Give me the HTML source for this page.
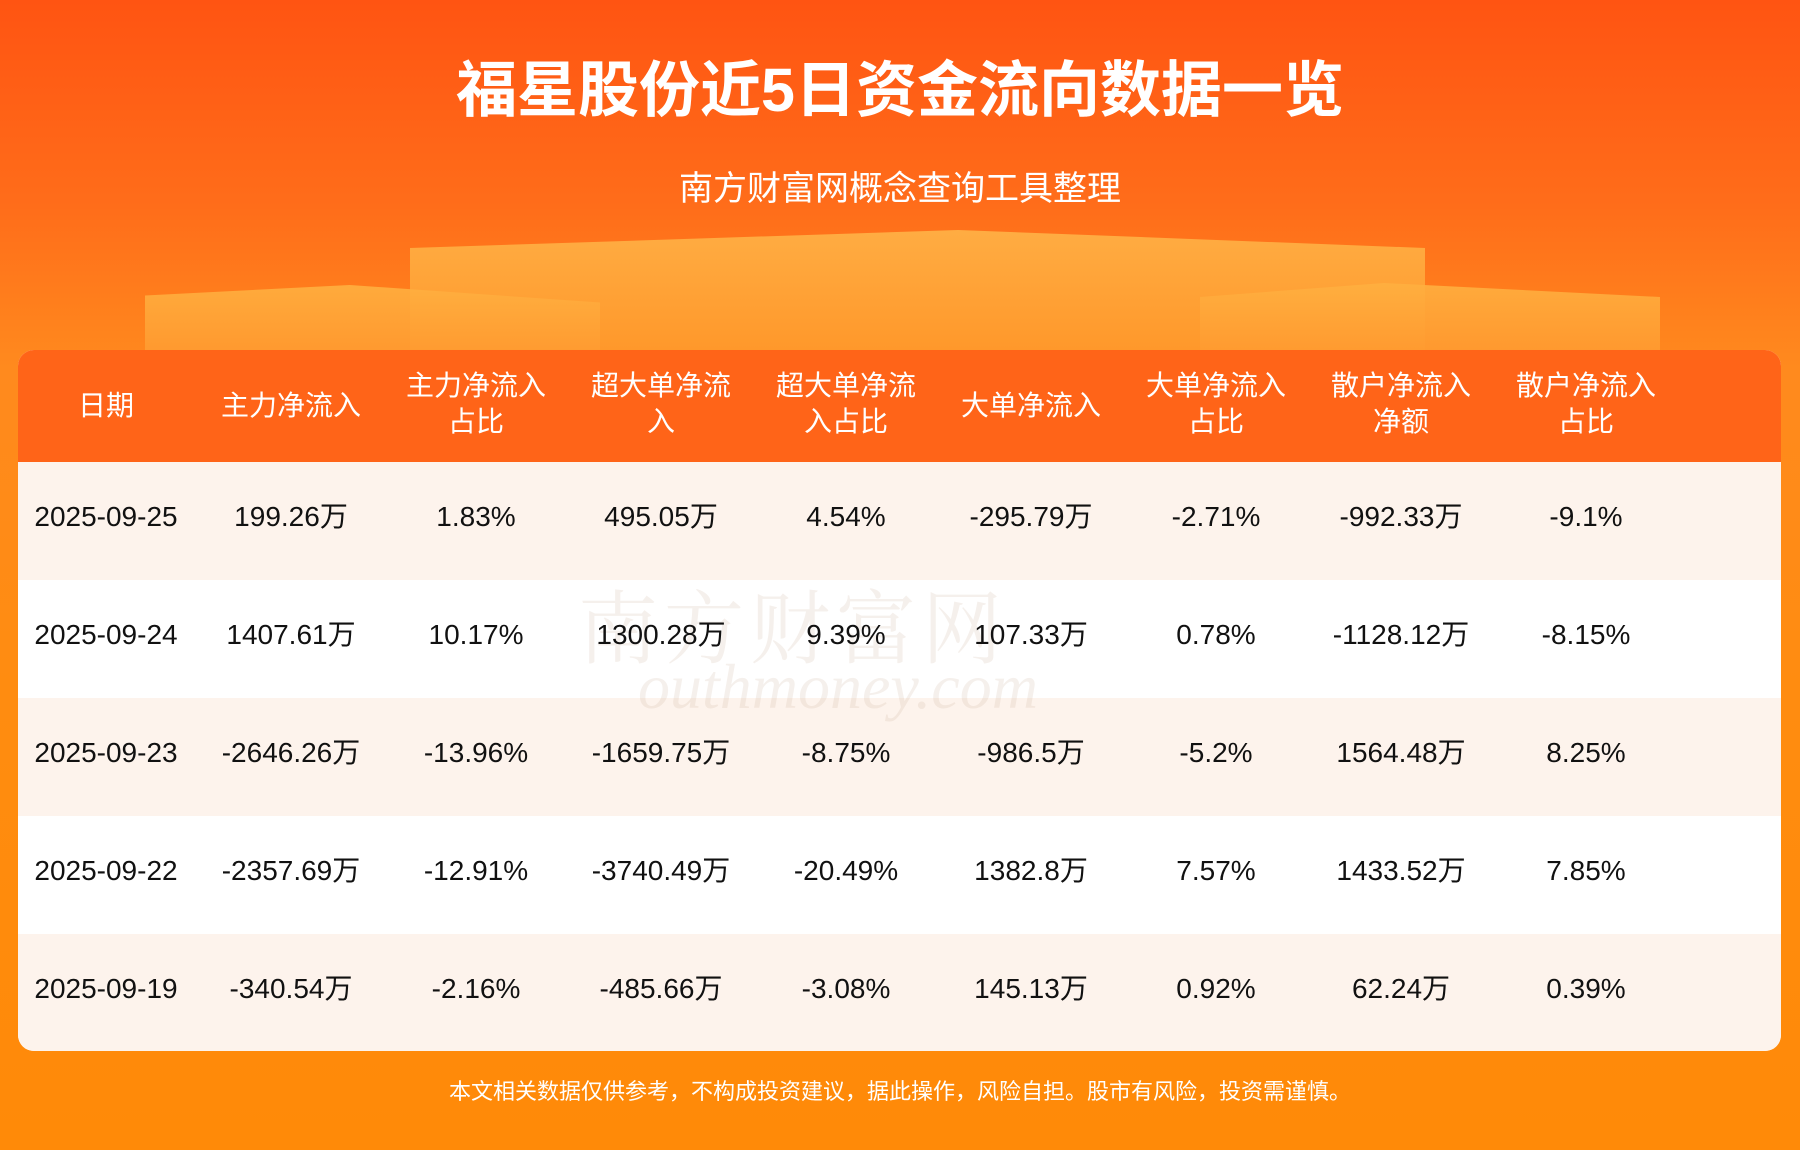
<!DOCTYPE html>
<html><head><meta charset="utf-8"><style>
body{margin:0;width:1800px;height:1150px;overflow:hidden;font-family:"Liberation Sans","Noto Sans CJK SC",sans-serif;}
.bg{position:absolute;left:0;top:0;width:1800px;height:1150px;background:linear-gradient(180deg,#ff5412 0%,#ff6d1a 18%,#ff8a1e 32%,#ff8c10 60%,#ff8a08 100%);}
.t{position:absolute;left:0;width:1800px;text-align:center;color:#fff;}
.box{position:absolute;}
.tbl{position:absolute;left:18px;top:350px;width:1763px;height:701px;border-radius:16px;overflow:hidden;background:#fff;}
.hd{position:absolute;left:0;top:0;width:100%;height:112px;background:#ff6418;}
.row{position:absolute;left:0;width:100%;height:118px;}
.c{position:absolute;width:185px;text-align:center;transform:translateX(-50%);white-space:nowrap;}
.h{color:#fff;font-size:28px;line-height:36px;}
.d{color:#111;font-size:28px;line-height:118px;height:118px;}
.d span{display:inline-block;vertical-align:middle;line-height:40px;}
</style></head><body>
<div class="bg"></div>
<div class="box" style="left:410px;top:230px;width:1015px;height:120px;background:linear-gradient(180deg,#ffb347,#ff9a2c);clip-path:polygon(0 15%,54% 0,100% 15%,100% 100%,0 100%);opacity:.9"></div>
<div class="box" style="left:145px;top:285px;width:455px;height:70px;background:linear-gradient(180deg,#ffb040,#ff9a30);clip-path:polygon(0 15%,45% 0,100% 25%,100% 100%,0 100%);opacity:.9"></div>
<div class="box" style="left:1200px;top:283px;width:460px;height:70px;background:linear-gradient(180deg,#ffb040,#ff9a30);clip-path:polygon(0 20%,40% 0,100% 20%,100% 100%,0 100%);opacity:.9"></div>
<div class="t" style="top:55px;font-size:61px;font-weight:bold;line-height:70px;">福星股份近5日资金流向数据一览</div>
<div class="t" style="top:168px;font-size:34px;line-height:42px;">南方财富网概念查询工具整理</div>
<div class="tbl">
<div class="hd">
<div class="c h" style="left:88px;top:38px">日期</div>
<div class="c h" style="left:273px;top:38px">主力净流入</div>
<div class="c h" style="left:458px;top:18px">主力净流入<br>占比</div>
<div class="c h" style="left:643px;top:18px">超大单净流<br>入</div>
<div class="c h" style="left:828px;top:18px">超大单净流<br>入占比</div>
<div class="c h" style="left:1013px;top:38px">大单净流入</div>
<div class="c h" style="left:1198px;top:18px">大单净流入<br>占比</div>
<div class="c h" style="left:1383px;top:18px">散户净流入<br>净额</div>
<div class="c h" style="left:1568px;top:18px">散户净流入<br>占比</div>
</div>
<div class="row" style="top:112px;background:#fdf3ec"></div>
<div class="row" style="top:230px;background:#fff"></div>
<div class="row" style="top:348px;background:#fdf3ec"></div>
<div class="row" style="top:466px;background:#fff"></div>
<div class="row" style="top:584px;background:#fdf3ec"></div>
<div style="position:absolute;left:560px;top:215px;font-size:80px;color:rgba(200,170,150,.18);font-family:'Noto Serif CJK SC',serif;letter-spacing:6px">南方财富网</div>
<div style="position:absolute;left:620px;top:300px;font-size:64px;color:rgba(200,170,150,.18);font-style:italic;font-family:'Liberation Serif',serif">outhmoney.com</div>
<div id="rows"></div>
</div>
<div class="t" style="top:1078px;font-size:22px;line-height:28px;">本文相关数据仅供参考，不构成投资建议，据此操作，风险自担。股市有风险，投资需谨慎。</div>
<script>
var data=[["2025-09-25","199.26万","1.83%","495.05万","4.54%","-295.79万","-2.71%","-992.33万","-9.1%"],
["2025-09-24","1407.61万","10.17%","1300.28万","9.39%","107.33万","0.78%","-1128.12万","-8.15%"],
["2025-09-23","-2646.26万","-13.96%","-1659.75万","-8.75%","-986.5万","-5.2%","1564.48万","8.25%"],
["2025-09-22","-2357.69万","-12.91%","-3740.49万","-20.49%","1382.8万","7.57%","1433.52万","7.85%"],
["2025-09-19","-340.54万","-2.16%","-485.66万","-3.08%","145.13万","0.92%","62.24万","0.39%"]];
var h="";data.forEach(function(r,i){r.forEach(function(v,j){h+='<div class="c d" style="left:'+(88+185*j)+'px;top:'+(106+118*i)+'px"><span>'+v+'</span></div>';});});
document.getElementById("rows").innerHTML=h;
</script>
</body></html>
